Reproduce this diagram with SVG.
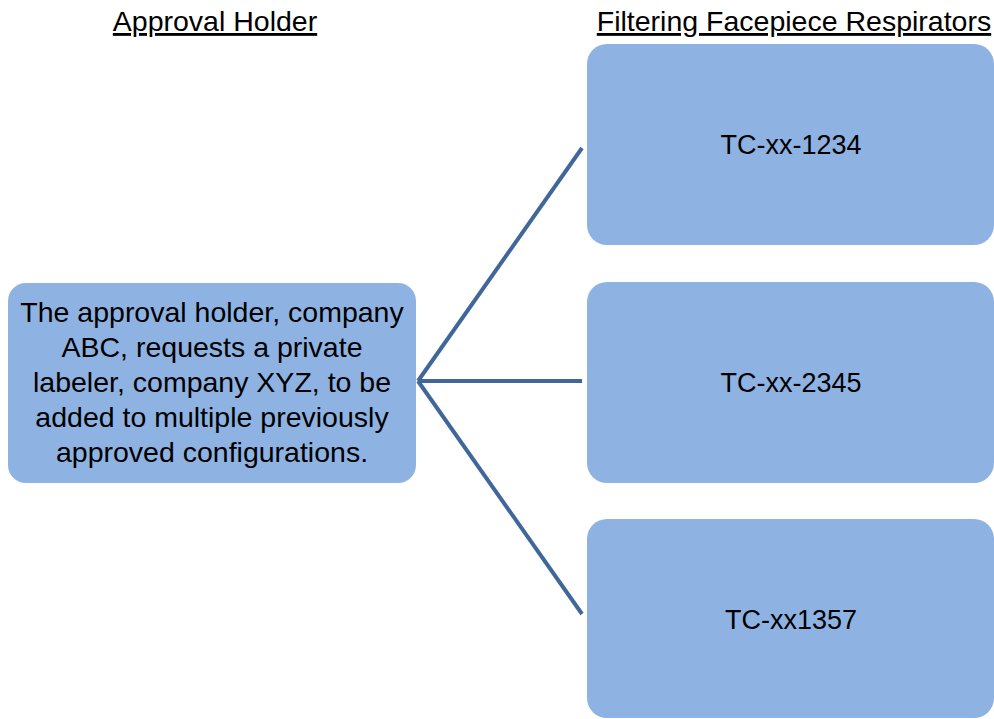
<svg xmlns="http://www.w3.org/2000/svg" width="994" height="719" viewBox="0 0 994 719">
<style>
.box{fill:#8EB3E3;}
.t{font-family:"Liberation Sans",Arial,sans-serif;fill:#000;text-anchor:middle;}
.b{font-size:28.5px;}
.n{font-size:27px;}
.h{font-size:28.5px;text-decoration:underline;}
.c{stroke:#41679A;stroke-width:4;fill:none;}
</style>
<rect width="994" height="719" fill="#fff"/>
<text class="t h" x="215" y="31">Approval Holder</text>
<text class="t h" x="794" y="31">Filtering Facepiece Respirators</text>
<g id="connectors">
<line class="c" x1="418" y1="381" x2="582" y2="148"/>
<line class="c" x1="418" y1="381" x2="582" y2="381"/>
<line class="c" x1="418" y1="381" x2="582" y2="614"/>
</g>
<g id="holder">
<rect class="box" x="8" y="283" width="408" height="200" rx="18"/>
<text class="t b" x="212" y="322">The approval holder, company</text>
<text class="t b" x="212" y="357">ABC, requests a private</text>
<text class="t b" x="212" y="392">labeler, company XYZ, to be</text>
<text class="t b" x="212" y="427">added to multiple previously</text>
<text class="t b" x="212" y="462">approved configurations.</text>
</g>
<g id="tc1">
<rect class="box" x="587" y="44" width="407" height="201" rx="20"/>
<text class="t n" x="791" y="154">TC-xx-1234</text>
</g>
<g id="tc2">
<rect class="box" x="587" y="282" width="407" height="201" rx="20"/>
<text class="t n" x="791" y="392">TC-xx-2345</text>
</g>
<g id="tc3">
<rect class="box" x="587" y="519" width="407" height="199" rx="20"/>
<text class="t n" x="791" y="629">TC-xx1357</text>
</g>
</svg>
